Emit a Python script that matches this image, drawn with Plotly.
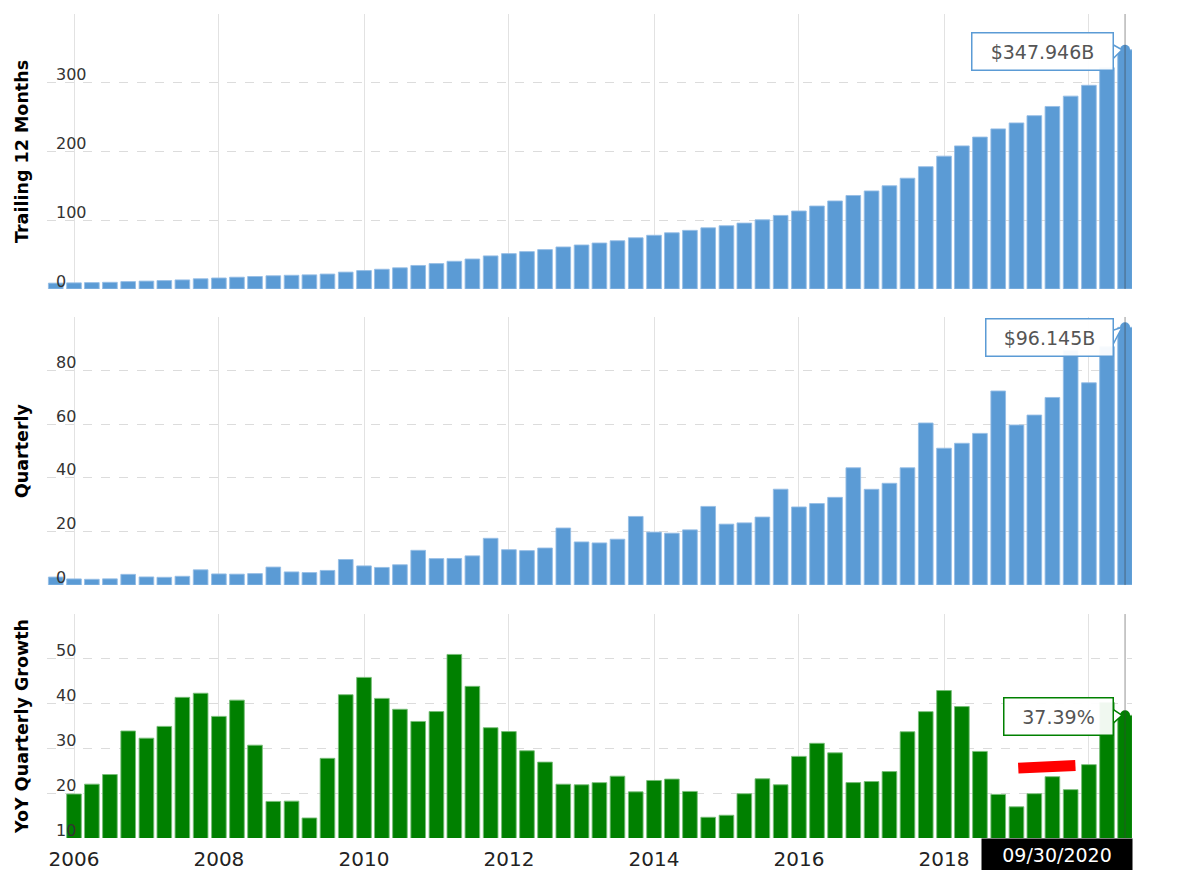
import plotly.graph_objects as go
from plotly.subplots import make_subplots

# ---- data (quarter end dates, values in $B / %) ----
quarter_end = [
    "2005-12-31",
    "2006-03-31", "2006-06-30", "2006-09-30", "2006-12-31",
    "2007-03-31", "2007-06-30", "2007-09-30", "2007-12-31",
    "2008-03-31", "2008-06-30", "2008-09-30", "2008-12-31",
    "2009-03-31", "2009-06-30", "2009-09-30", "2009-12-31",
    "2010-03-31", "2010-06-30", "2010-09-30", "2010-12-31",
    "2011-03-31", "2011-06-30", "2011-09-30", "2011-12-31",
    "2012-03-31", "2012-06-30", "2012-09-30", "2012-12-31",
    "2013-03-31", "2013-06-30", "2013-09-30", "2013-12-31",
    "2014-03-31", "2014-06-30", "2014-09-30", "2014-12-31",
    "2015-03-31", "2015-06-30", "2015-09-30", "2015-12-31",
    "2016-03-31", "2016-06-30", "2016-09-30", "2016-12-31",
    "2017-03-31", "2017-06-30", "2017-09-30", "2017-12-31",
    "2018-03-31", "2018-06-30", "2018-09-30", "2018-12-31",
    "2019-03-31", "2019-06-30", "2019-09-30", "2019-12-31",
    "2020-03-31", "2020-06-30", "2020-09-30",
]

ttm_revenue = [
    8.490,
    8.867, 9.253, 9.702, 10.711,
    11.447, 12.194, 13.149, 14.836,
    15.956, 17.133, 18.135, 19.166,
    19.920, 20.508, 21.693, 24.508,
    26.750, 28.665, 30.776, 34.205,
    36.931, 40.278, 43.594, 48.077,
    51.405, 54.326, 57.256, 61.093,
    63.978, 66.848, 70.134, 74.452,
    78.123, 81.759, 85.246, 88.988,
    91.964, 95.809, 100.588, 107.006,
    113.417, 120.636, 127.992, 135.987,
    142.573, 150.124, 161.154, 177.866,
    193.194, 208.125, 220.957, 232.887,
    241.545, 252.063, 265.468, 280.522,
    296.274, 321.782, 347.946,
]

quarterly_revenue = [
    2.977,
    2.279, 2.139, 2.307, 3.986,
    3.015, 2.886, 3.262, 5.673,
    4.135, 4.063, 4.264, 6.704,
    4.889, 4.651, 5.449, 9.519,
    7.131, 6.566, 7.560, 12.948,
    9.857, 9.913, 10.876, 17.431,
    13.185, 12.834, 13.806, 21.268,
    16.070, 15.704, 17.092, 25.586,
    19.741, 19.340, 20.579, 29.328,
    22.717, 23.185, 25.358, 35.746,
    29.128, 30.404, 32.714, 43.741,
    35.714, 37.955, 43.744, 60.453,
    51.042, 52.886, 56.576, 72.383,
    59.700, 63.404, 69.981, 87.437,
    75.452, 88.912, 96.145,
]

yoy_growth = [
    None,
    19.82, 22.02, 24.17, 33.89,
    32.29, 34.92, 41.40, 42.32,
    37.15, 40.78, 30.72, 18.17,
    18.23, 14.47, 27.79, 41.99,
    45.86, 41.17, 38.74, 36.02,
    38.23, 50.98, 43.86, 34.62,
    33.76, 29.47, 26.94, 22.01,
    21.88, 22.36, 23.80, 20.30,
    22.84, 23.15, 20.40, 14.63,
    15.08, 19.88, 23.22, 21.88,
    28.22, 31.14, 29.01, 22.37,
    22.61, 24.83, 33.72, 38.21,
    42.92, 39.34, 29.33, 19.74,
    16.96, 19.89, 23.69, 20.80,
    26.38, 40.23, 37.39,
]

x_tick_dates = ["2006-01-01", "2008-01-01", "2010-01-01", "2012-01-01",
                "2014-01-01", "2016-01-01", "2018-01-01", "2020-01-01"]
# the 2020 label is hidden under the date badge in the reference
x_tick_labels = ["2006", "2008", "2010", "2012", "2014", "2016", "2018", ""]
y1_ticks = [0, 100, 200, 300, 400]
y1_labels = ["0", "100", "200", "300", ""]
y2_ticks = [0, 20, 40, 60, 80, 100]
y2_labels = ["0", "20", "40", "60", "80", ""]
y3_ticks = [10, 20, 30, 40, 50, 60]
y3_labels = ["10", "20", "30", "40", "50", ""]

panel_titles = ["Trailing 12 Months", "Quarterly", "YoY Quarterly Growth"]
callouts = ["$347.946B", "$96.145B", "37.39%"]
date_label = "09/30/2020"

BLUE = "#5b9bd5"
GREEN = "#008000"
FONT = "DejaVu Sans"

fig = make_subplots(rows=3, cols=1, shared_xaxes=True)

series = [ttm_revenue, quarterly_revenue, yoy_growth]
colors = [BLUE, BLUE, GREEN]
edge = ["rgba(150,190,230,0.9)", "rgba(150,190,230,0.9)", "rgba(120,190,120,0.9)"]
for i, (vals, c, e) in enumerate(zip(series, colors, edge)):
    fig.add_trace(go.Bar(
        x=quarter_end, y=vals, xperiod="M3", xperiodalignment="start",
        marker=dict(color=c, line=dict(color=e, width=1)),
        showlegend=False, hoverinfo="skip"), row=i + 1, col=1)

# hover dots on last point
last_x = quarter_end[-1]
last_vals = [ttm_revenue[-1], quarterly_revenue[-1], yoy_growth[-1]]
for i, (v, c) in enumerate(zip(last_vals, colors)):
    fig.add_trace(go.Scatter(
        x=[last_x], y=[v], xperiod="M3", xperiodalignment="start",
        mode="markers", marker=dict(color=c, size=10),
        showlegend=False, hoverinfo="skip"), row=i + 1, col=1)

# domains (from bottom)
doms = [[0.6663, 1.0], [0.307, 0.6323], [0.0, 0.2718]]
yranges = [[0, 400], [0, 100], [10, 60]]
yticks = [(y1_ticks, y1_labels), (y2_ticks, y2_labels), (y3_ticks, y3_labels)]

for i in range(3):
    fig.update_yaxes(
        row=i + 1, col=1, domain=doms[i], range=yranges[i],
        tickvals=yticks[i][0], ticktext=yticks[i][1],
        ticklabelposition="inside", ticklabelstandoff=6, ticklabelshift=-8,
        ticklabeloverflow="allow",
        tickfont=dict(family=FONT, size=16, color="#333333"),
        showgrid=True, gridcolor="#dcdcdc", griddash="dash", gridwidth=1,
        zeroline=False, showline=False, ticks="", automargin=False,
        title=dict(text="<b>%s</b>" % panel_titles[i],
                   font=dict(family=FONT, size=17.5, color="#000000"),
                   standoff=22),
        fixedrange=True,
    )

fig.update_xaxes(
    type="date", range=["2005-08-18", "2020-08-05"],
    tickvals=x_tick_dates, ticktext=x_tick_labels,
    showgrid=True, gridcolor="#e2e2e2", gridwidth=1,
    zeroline=False, showline=False, ticks="", automargin=False,
    tickfont=dict(family=FONT, size=20, color="#222222"),
)
fig.update_xaxes(ticklabelstandoff=7, row=3, col=1)

# cursor lines
xrefs = ["x", "x2", "x3"]
yrefs = ["y", "y2", "y3"]
for i in range(3):
    fig.add_shape(type="line", xref=xrefs[i], yref=yrefs[i] + " domain",
                  x0="2020-07-01", x1="2020-07-01", y0=0, y1=1,
                  line=dict(color="rgba(60,60,60,0.55)", width=1), layer="above")

# callouts
border_cols = [BLUE, BLUE, GREEN]
yshifts = [-2, -10, -1]
box_w = [128, 114, 96]
for i in range(3):
    fig.add_annotation(
        xref=xrefs[i], yref=yrefs[i], x="2020-07-01", y=last_vals[i],
        text=callouts[i], showarrow=False, xanchor="right", yanchor="middle",
        xshift=-11, yshift=yshifts[i],
        font=dict(family=FONT, size=19, color="#555555"),
        bgcolor="rgba(255,255,255,0.94)", bordercolor=border_cols[i],
        borderwidth=1.5, borderpad=6, width=box_w[i], height=24, align="center")
    ys = yshifts[i]
    fig.add_shape(type="path", xref=xrefs[i], yref=yrefs[i],
                  xsizemode="pixel", ysizemode="pixel",
                  xanchor="2020-07-01", yanchor=last_vals[i],
                  path="M -12,%d L -3,0 L -12,%d" % (ys + 7, ys - 7),
                  fillcolor="white", line=dict(color=border_cols[i], width=1.5),
                  layer="above")

# red brush stroke
fig.add_shape(type="line", xref="x3", yref="y3",
              x0="2019-01-10", y0=25.6, x1="2019-10-25", y1=26.2,
              line=dict(color="#ff0000", width=11), layer="above")

# date label
fig.add_annotation(
    xref="paper", yref="paper", x=1.001, y=0, xanchor="right", yanchor="top",
    text=date_label, showarrow=False,
    font=dict(family=FONT, size=19, color="#ffffff"),
    bgcolor="#000000", borderpad=5, width=140)

fig.update_layout(
    width=1177, height=870,
    margin=dict(l=47, r=45, t=14, b=32),
    plot_bgcolor="white", paper_bgcolor="white",
    bargap=0.18, showlegend=False,
    font=dict(family=FONT),
)

fig.write_html("out.html")
